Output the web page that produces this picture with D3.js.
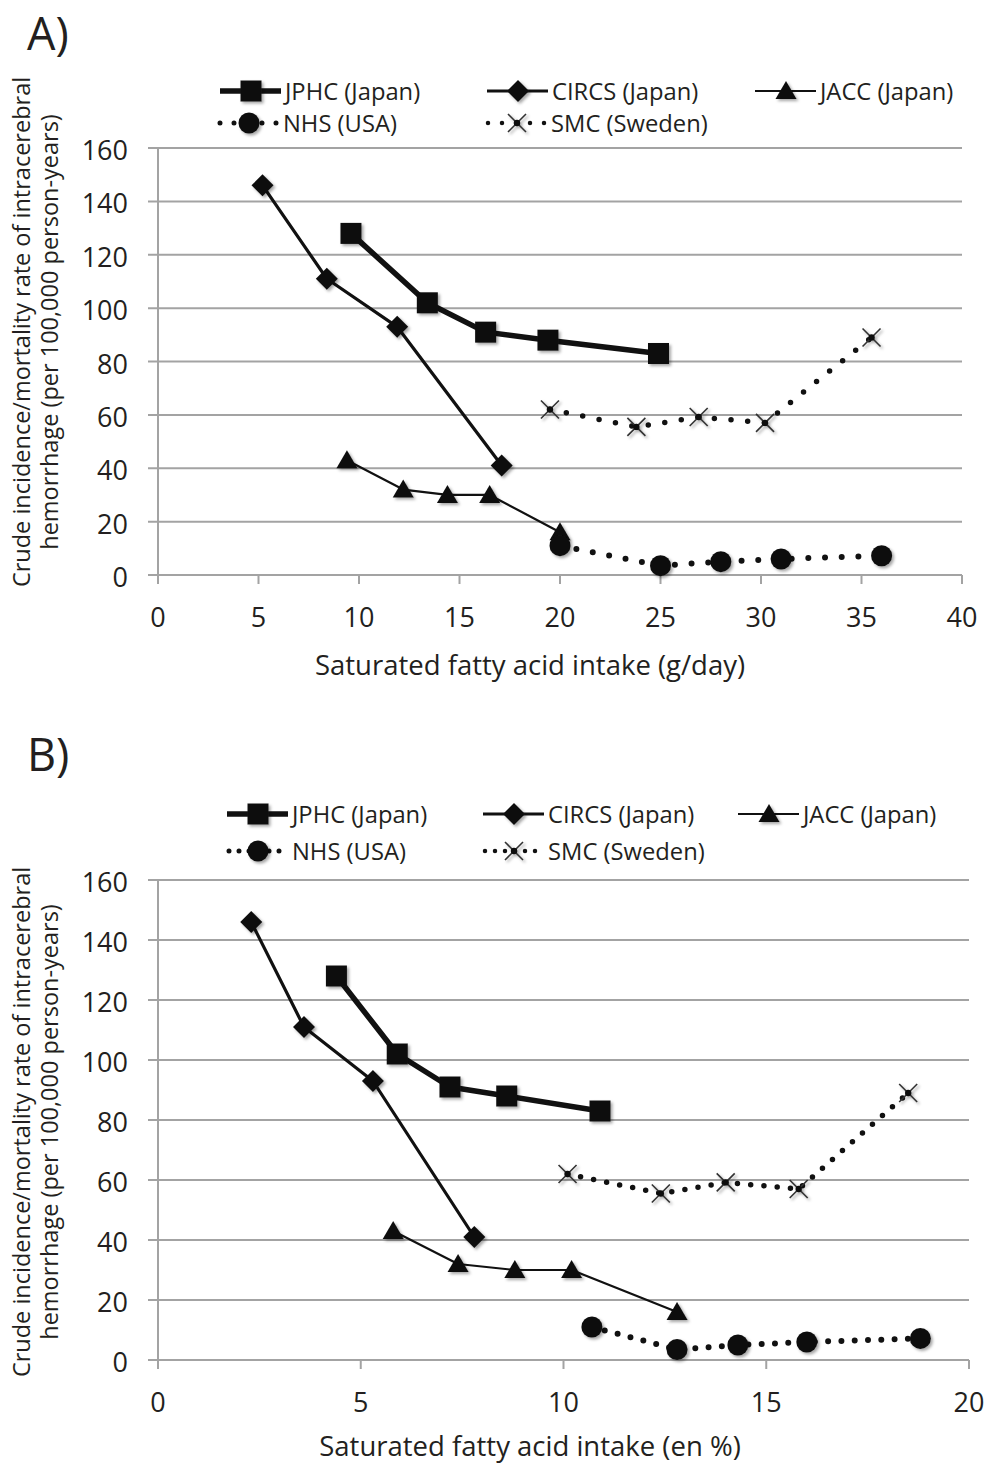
<!DOCTYPE html>
<html lang="en">
<head>
<meta charset="utf-8">
<title>Saturated fatty acid intake vs intracerebral hemorrhage</title>
<script src="https://cdn.jsdelivr.net/npm/d3@7"></script>
<style>
  body { margin: 0; background: #fff; }
  text { font-family: "Open Sans", "DejaVu Sans", sans-serif; fill: #231f20; }
</style>
</head>
<body>
<div id="chart"></div>
<script>
// data
var seriesNames = ["JPHC (Japan)", "CIRCS (Japan)", "JACC (Japan)", "NHS (USA)", "SMC (Sweden)"];
var yTicks = [0, 20, 40, 60, 80, 100, 120, 140, 160];
var xTicksA = [0, 5, 10, 15, 20, 25, 30, 35, 40];
var xTicksB = [0, 5, 10, 15, 20];

// crude rates (per 100,000 person-years)
var jphcRate = [128, 102, 91, 88, 83];
var circsRate = [146, 111, 93, 41];
var jaccRate = [43, 32, 30, 30, 16];
var nhsRate = [11, 3.5, 5, 6, 7.2];
var smcRate = [62, 55.5, 59.2, 57, 89];

// intake in g/day (panel A)
var jphcG = [9.6, 13.4, 16.3, 19.4, 24.9];
var circsG = [5.2, 8.4, 11.9, 17.1];
var jaccG = [9.4, 12.2, 14.4, 16.5, 20.0];
var nhsG = [20.0, 25.0, 28.0, 31.0, 36.0];
var smcG = [19.5, 23.8, 26.9, 30.2, 35.5];

// intake in en % (panel B)
var jphcEn = [4.4, 5.9, 7.2, 8.6, 10.9];
var circsEn = [2.3, 3.6, 5.3, 7.8];
var jaccEn = [5.8, 7.4, 8.8, 10.2, 12.8];
var nhsEn = [10.7, 12.8, 14.3, 16.0, 18.8];
var smcEn = [10.1, 12.4, 14.0, 15.8, 18.5];

var W = 987, H = 1464;
var svg = d3.select("#chart").append("svg")
    .attr("width", W).attr("height", H);

// soft shadow under the markers
var defs = svg.append("defs");
defs.append("filter").attr("id", "shadow")
    .attr("x", "-50%").attr("y", "-50%").attr("width", "200%").attr("height", "200%")
  .append("feDropShadow")
    .attr("dx", 2).attr("dy", 2).attr("stdDeviation", 1.6)
    .attr("flood-color", "#000").attr("flood-opacity", 0.35);

// style of each series: line width, dash, marker
var styles = [
  {width: 5.5, dash: null, marker: "square"},
  {width: 3.2, dash: null, marker: "diamond"},
  {width: 2.2, dash: null, marker: "triangle"},
  {width: 6, dash: "dot", marker: "circle"},
  {width: 5.5, dash: "dot", marker: "cross"}
];

function marker(g, type, cx, cy) {
  var s = g.append("g").attr("transform", "translate(" + cx + "," + cy + ")")
      .attr("filter", "url(#shadow)");
  if (type === "square") {
    s.append("rect").attr("x", -10.5).attr("y", -10.5).attr("width", 21).attr("height", 21).attr("fill", "#111");
  } else if (type === "diamond") {
    s.append("path").attr("d", "M0,-11L11,0L0,11L-11,0Z").attr("fill", "#111");
  } else if (type === "triangle") {
    s.append("path").attr("d", "M0,-10L10.5,8L-10.5,8Z").attr("fill", "#111");
  } else if (type === "circle") {
    s.append("circle").attr("r", 10.5).attr("fill", "#111");
  } else if (type === "cross") {
    s.append("path").attr("d", "M-9,-9L9,9M-9,9L9,-9").attr("stroke", "#333").attr("stroke-width", 1.6);
    s.append("circle").attr("r", 3.2).attr("fill", "#111");
  }
}

function drawPanel(cfg) {
  var x = d3.scaleLinear().domain(cfg.xDomain).range([cfg.left, cfg.right]);
  var y = d3.scaleLinear().domain([0, 160]).range([cfg.bottom, cfg.top]);
  var g = svg.append("g");

  // gridlines, with the small y tick stubs to the left
  g.selectAll(".grid").data(yTicks).join("line")
      .attr("x1", cfg.left - 10).attr("x2", cfg.right)
      .attr("y1", d => y(d)).attr("y2", d => y(d))
      .attr("stroke", "#a3a3a3").attr("stroke-width", 2);
  g.append("line").attr("x1", cfg.left).attr("x2", cfg.left)
      .attr("y1", cfg.top).attr("y2", cfg.bottom + 8)
      .attr("stroke", "#a3a3a3").attr("stroke-width", 2);
  g.selectAll(".xt").data(cfg.xTicks).join("line")
      .attr("x1", d => x(d)).attr("x2", d => x(d))
      .attr("y1", cfg.bottom).attr("y2", cfg.bottom + 9)
      .attr("stroke", "#a3a3a3").attr("stroke-width", 2);

  // tick labels
  g.selectAll(".yl").data(yTicks).join("text")
      .attr("x", cfg.left - 30).attr("y", d => y(d) + 12)
      .attr("text-anchor", "end").attr("font-size", 27)
      .text(d => d);
  g.selectAll(".xl").data(cfg.xTicks).join("text")
      .attr("x", d => x(d)).attr("y", cfg.bottom + 52)
      .attr("text-anchor", "middle").attr("font-size", 27)
      .text(d => d);

  // axis titles
  g.append("text").attr("x", 530).attr("y", cfg.titleY)
      .attr("text-anchor", "middle").attr("font-size", 27.5)
      .text(cfg.xTitle);
  var cy = cfg.labelCY;
  g.append("text").attr("transform", "translate(30," + cy + ")rotate(-90)")
      .attr("text-anchor", "middle").attr("font-size", 23.5)
      .text("Crude incidence/mortality rate of intracerebral");
  g.append("text").attr("transform", "translate(58," + cy + ")rotate(-90)")
      .attr("text-anchor", "middle").attr("font-size", 23.5)
      .text("hemorrhage (per 100,000 person-years)");

  // panel letter
  g.append("text").attr("x", 27).attr("y", cfg.letterY)
      .attr("font-size", 45).text(cfg.letter);

  // series
  var line = d3.line().x(d => x(d[0])).y(d => y(d[1]));
  cfg.series.forEach(function(s, i) {
    var st = styles[i];
    var pts = d3.zip(s.x, s.y);
    var p = g.append("path").datum(pts).attr("d", line)
        .attr("fill", "none").attr("stroke", "#111")
        .attr("stroke-width", st.width).attr("stroke-linejoin", "round");
    if (st.dash) {
      p.attr("stroke-dasharray", "0 " + cfg.dotGap).attr("stroke-linecap", "round");
    }
    pts.forEach(d => marker(g, st.marker, x(d[0]), y(d[1])));
  });

  // legend
  var lg = svg.append("g");
  cfg.legend.forEach(function(L, i) {
    var st = styles[i];
    var item = lg.append("g").attr("transform", "translate(" + L[0] + "," + L[1] + ")");
    var p = item.append("line").attr("x1", 0).attr("x2", 61).attr("y1", 0).attr("y2", 0)
        .attr("stroke", "#111").attr("stroke-width", st.width);
    if (st.dash) {
      p.attr("stroke-dasharray", "0 " + cfg.legendGap).attr("stroke-linecap", "round")
       .attr("x1", 2).attr("stroke-width", st.width - 1);
    }
    marker(item, st.marker, 31, 0);
    item.append("text").attr("x", 65).attr("y", 9)
        .attr("font-size", 24.5).attr("transform", "scale(0.97,1)")
        .attr("x", 65 / 0.97)
        .text(seriesNames[i]);
  });
}

drawPanel({
  letter: "A)", letterY: 50,
  xDomain: [0, 40], xTicks: xTicksA,
  left: 158, right: 962, top: 148, bottom: 575,
  xTitle: "Saturated fatty acid intake (g/day)", titleY: 675,
  labelCY: 332,
  dotGap: 16.7, legendGap: 14,
  series: [
    {x: jphcG, y: jphcRate}, {x: circsG, y: circsRate}, {x: jaccG, y: jaccRate},
    {x: nhsG, y: nhsRate}, {x: smcG, y: smcRate}
  ],
  legend: [[220, 91], [487, 91], [755, 91], [218, 123], [486, 123]]
});

drawPanel({
  letter: "B)", letterY: 771,
  xDomain: [0, 20], xTicks: xTicksB,
  left: 158, right: 969, top: 880, bottom: 1360,
  xTitle: "Saturated fatty acid intake (en %)", titleY: 1456,
  labelCY: 1122,
  dotGap: 13.3, legendGap: 10,
  series: [
    {x: jphcEn, y: jphcRate}, {x: circsEn, y: circsRate}, {x: jaccEn, y: jaccRate},
    {x: nhsEn, y: nhsRate}, {x: smcEn, y: smcRate}
  ],
  legend: [[227, 814], [483, 814], [738, 814], [227, 851], [483, 851]]
});
</script>
</body>
</html>
